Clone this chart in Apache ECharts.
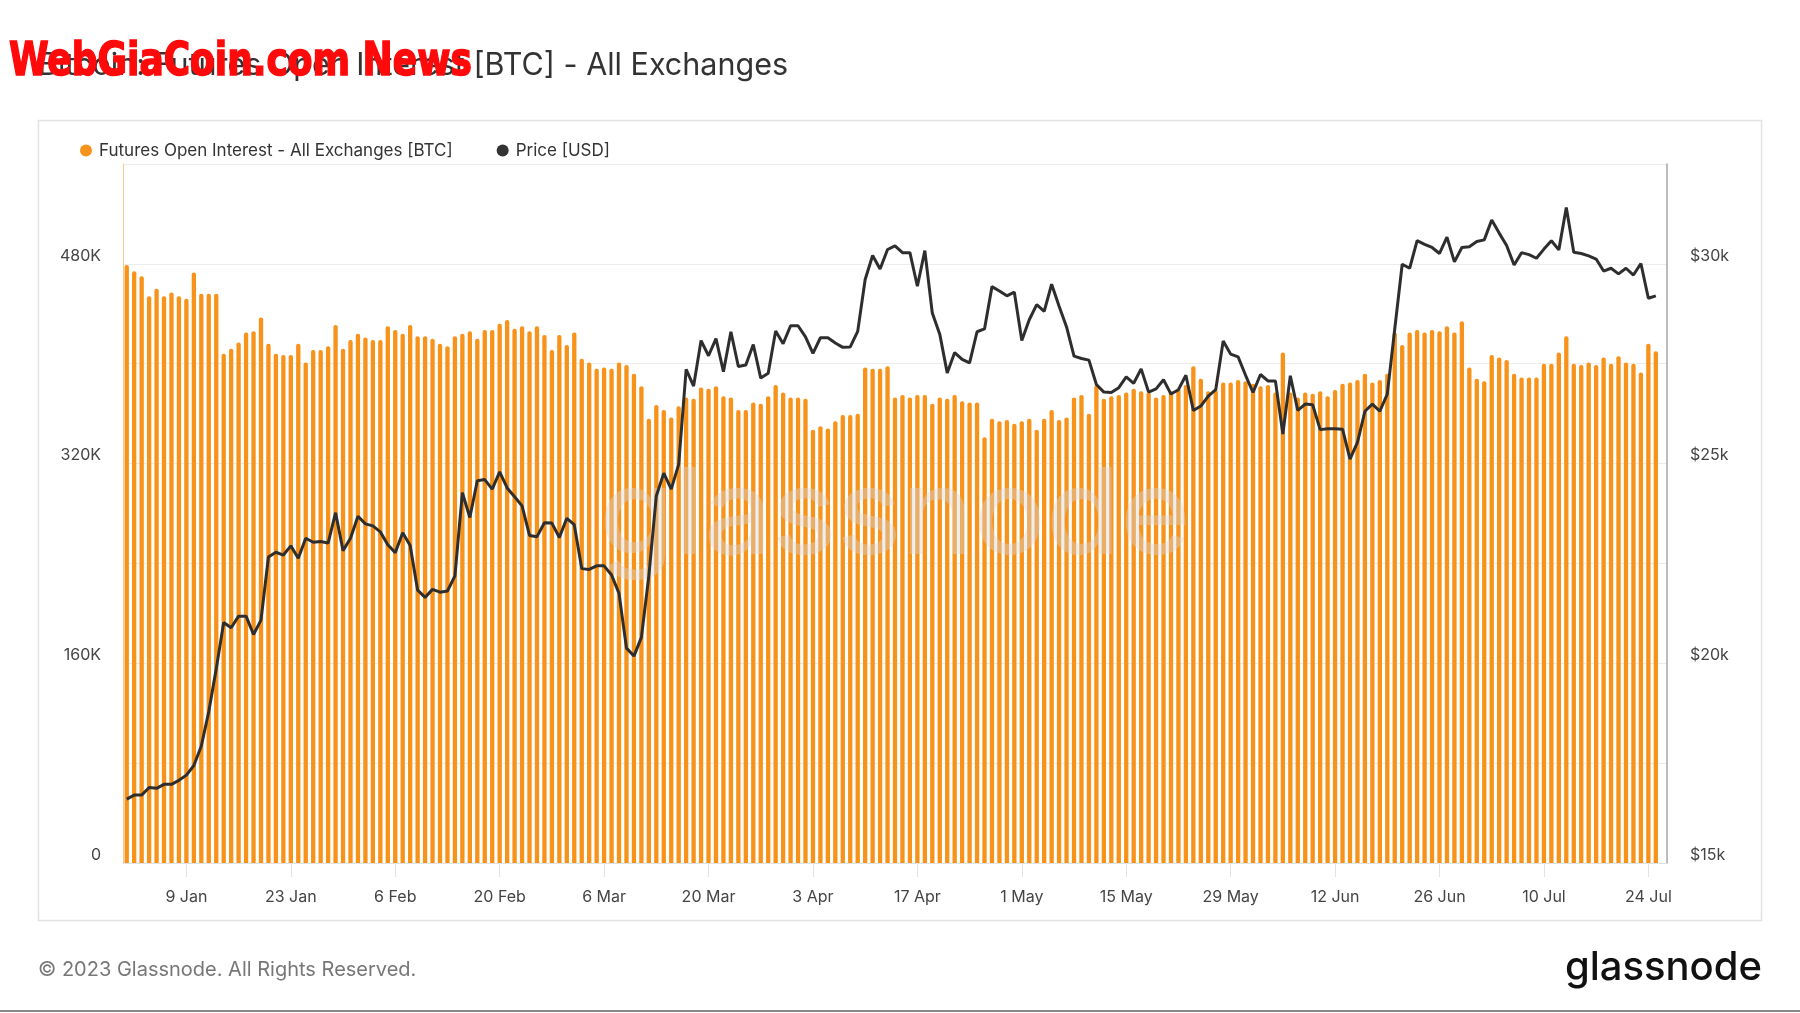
<!DOCTYPE html>
<html>
<head>
<meta charset="utf-8">
<title>Bitcoin: Futures Open Interest [BTC] - All Exchanges</title>
<script src="https://cdn.jsdelivr.net/npm/echarts@6/dist/echarts.min.js"></script>
<style>
  html, body { margin: 0; padding: 0; background: #fff; }
  #chart { width: 1800px; height: 1013px; }
</style>
</head>
<body>
<div id="chart"></div>
<script>
/* one value per day, 1 Jan 2023 .. 25 Jul 2023 (the axis runs one empty day further) */
var firstDay = Date.UTC(2023, 0, 1);
var dayCount = 207;
var monthNames = ['Jan', 'Feb', 'Mar', 'Apr', 'May', 'Jun', 'Jul', 'Aug', 'Sep', 'Oct', 'Nov', 'Dec'];

var tickLabels = ['9 Jan', '23 Jan', '6 Feb', '20 Feb', '6 Mar', '20 Mar', '3 Apr', '17 Apr',
  '1 May', '15 May', '29 May', '12 Jun', '26 Jun', '10 Jul', '24 Jul'];

// futures open interest, BTC
var openInterest = [
  479000, 474000, 470000, 454000, 460000, 454000, 457000, 454000, 452000, 473000, 456000, 456000, 456000,
  408000, 412000, 417000, 425000, 426000, 437000, 416000, 408000, 407000, 407000, 416000, 401000, 411000, 411000, 414000, 431000, 412000,
  419000, 424000, 421000, 419000, 419000, 430000, 427000, 424000, 431000, 422000, 422000, 420000, 416000, 414000, 422000, 424000, 426000, 420000, 427000, 427000,
  432000, 435000, 428000, 430000, 426000, 430000, 423000, 411000, 423000, 415000, 425000, 404000, 401000, 396000,
  397000, 396000, 401000, 399000, 392000, 382000, 356000, 367000, 363000, 357000, 366000, 373000, 372000, 381000, 380000, 382000,
  374000, 373000, 363000, 363000, 369000, 368000, 374000, 383000, 377000, 373000, 373000, 372000, 347000, 350000, 348000, 354000, 359000, 359000, 360000, 397000,
  396000, 396000, 398000, 373000, 375000, 373000, 375000, 375000, 368000, 373000, 372000, 375000, 370000, 369000, 369000, 341000, 356000, 354000,
  355000, 352000, 354000, 356000, 347000, 356000, 363000,
  355000, 357000, 373000, 375000, 360000, 383000, 372000, 374000, 375000, 377000, 380000, 378000, 377000, 373000, 375000, 378000, 380000, 383000, 398000, 388000, 378000, 379000, 385000, 385000, 387000,
  386000, 384000, 382000, 383000, 377000, 409000, 377000, 373000, 377000, 376000, 378000, 374000, 379000, 384000, 385000, 387000, 392000, 385000, 387000, 392000, 425000,
  415000, 425000, 427000, 425000, 427000, 426000, 430000, 425000, 434000, 397000, 388000, 386000, 407000, 405000, 403000, 392000, 389000, 389000, 389000, 400000,
  400000, 409000, 422000, 400000, 399000, 401000, 399000, 405000, 400000, 406000, 401000, 400000, 393000, 416000, 410000
];

// BTC price, USD
var price = [
  16600, 16700, 16700, 16890, 16870, 16970, 16970, 17070, 17200, 17440, 17930, 18790, 19860,
  21020, 20890, 21180, 21180, 20720, 21080, 22660, 22780, 22710, 22940, 22630, 23130, 23030, 23050, 23010, 23770, 22820,
  23130, 23680, 23490, 23440, 23290, 22970, 22770, 23270, 22950, 21830, 21650, 21850, 21780, 21810, 22190, 24270, 23650, 24570, 24600, 24360,
  24790, 24390, 24170, 23940, 23200, 23170, 23520, 23510, 23150, 23630, 23470, 22370, 22350, 22440,
  22440, 22210, 21750, 20380, 20180, 20650, 22190, 24190, 24760, 24360, 24980, 27360, 26940, 28080, 27700, 28130,
  27300, 28300, 27430, 27470, 27980, 27140, 27260, 28320, 28000, 28450, 28450, 28170, 27760, 28150, 28150, 28020, 27910, 27920, 28310, 29610,
  30210, 29870, 30360, 30450, 30280, 30280, 29440, 30330, 28770, 28240, 27270, 27780, 27610, 27520, 28300, 28370, 29430, 29320,
  29200, 29290, 28080, 28600, 28980, 28810, 29490,
  28940, 28420, 27690, 27630, 27590, 26980, 26790, 26780, 26900, 27170, 27010, 27370, 26790, 26870, 27100, 26740, 26850, 27210, 26330, 26440, 26690, 26850, 28070, 27740, 27670,
  27210, 26780, 27230, 27070, 27070, 25740, 27200, 26330, 26490, 26470, 25850, 25870, 25870, 25860, 25110, 25530, 26310, 26490, 26310, 26740, 28370,
  29990, 29890, 30580, 30490, 30410, 30260, 30670, 30050, 30410, 30430, 30560, 30600, 31100, 30770, 30460, 29970, 30280, 30230, 30140, 30370,
  30580, 30350, 31410, 30290, 30260, 30200, 30120, 29820, 29890, 29750, 29890, 29720, 30010, 29140, 29200
];

var days = [];
for (var i = 0; i < dayCount; i++) {
  var d = new Date(firstDay + i * 86400000);
  days.push(d.getUTCDate() + ' ' + monthNames[d.getUTCMonth()]);
}

var font = 'Inter, "Noto Sans", sans-serif';
var isTick = function (idx, value) {
  return tickLabels.indexOf(value) !== -1;
};

var chart = echarts.init(document.getElementById('chart'));

var option = {
  backgroundColor: '#fff',
  animation: false,
  textStyle: { fontFamily: font },
  legend: {
    left: 75,
    top: 137,
    icon: 'circle',
    itemWidth: 12,
    itemHeight: 12,
    itemGap: 44,
    textStyle: { fontSize: 17, color: '#333', fontFamily: font, padding: [0, 0, 0, 2] },
    data: ['Futures Open Interest - All Exchanges [BTC]', 'Price [USD]']
  },
  grid: { left: 123, top: 164, width: 1544, height: 699 },
  xAxis: {
    type: 'category',
    data: days,
    boundaryGap: true,
    axisLine: { lineStyle: { color: '#e0e0e0' } },
    axisTick: { show: true, alignWithLabel: true, length: 14, interval: isTick, lineStyle: { color: '#e3e3e3' } },
    axisLabel: { interval: isTick, margin: 26, color: '#444', fontSize: 16, fontFamily: font },
    splitLine: { show: false }
  },
  yAxis: [
    {
      type: 'value',
      position: 'left',
      min: 0,
      max: 560000,
      interval: 80000,
      axisLine: { show: true, lineStyle: { color: '#f9c88c' } },
      axisTick: { show: false },
      splitLine: { lineStyle: { color: '#ececec' } },
      axisLabel: {
        margin: 22, color: '#444', fontSize: 16, fontFamily: font,
        verticalAlign: 'bottom', lineHeight: 16, padding: 0,
        formatter: function (v) {
          if (v % 160000 !== 0) return '';
          return v === 0 ? '0' : (v / 1000) + 'K';
        }
      }
    },
    {
      type: 'value',
      position: 'right',
      min: 15000,
      max: 32500,
      interval: 2500,
      axisLine: { show: true, lineStyle: { color: '#a6a6a6', width: 1.5 } },
      axisTick: { show: false },
      splitLine: { show: false },
      axisLabel: {
        margin: 23, color: '#444', fontSize: 16, fontFamily: font,
        verticalAlign: 'bottom', lineHeight: 16, padding: 0,
        formatter: function (v) {
          return v % 5000 === 0 ? '$' + (v / 1000) + 'k' : '';
        }
      }
    }
  ],
  series: [
    {
      name: 'Futures Open Interest - All Exchanges [BTC]',
      type: 'bar',
      yAxisIndex: 0,
      data: openInterest,
      barWidth: '58%',
      itemStyle: { color: '#f7931a', borderRadius: [2, 2, 0, 0] }
    },
    {
      name: 'Price [USD]',
      type: 'line',
      yAxisIndex: 1,
      data: price,
      symbol: 'none',
      z: 10,
      itemStyle: { color: '#333' },
      lineStyle: { color: '#2e2e2e', width: 3 }
    }
  ],
  graphic: [
    {
      type: 'rect', silent: true, z: 0,
      shape: { x: 38.5, y: 120.5, width: 1723, height: 800 },
      style: { fill: 'none', stroke: '#e2e2e2', lineWidth: 1.5 }
    },
    {
      type: 'text', silent: true, x: 38, y: 66,
      style: { text: 'Bitcoin: Futures Open Interest [BTC] - All Exchanges', font: '30.5px ' + font, fill: '#333', align: 'left', verticalAlign: 'middle' }
    },
    {
      type: 'text', silent: true, x: 895, y: 518, z: 3,
      style: { text: 'glassnode', font: '500 120px ' + font, fill: 'rgba(215,215,215,0.42)', align: 'center', verticalAlign: 'middle' }
    },
    {
      type: 'text', silent: true, x: 38, y: 970,
      style: { text: '\u00a9 2023 Glassnode. All Rights Reserved.', font: '20px ' + font, fill: '#777', align: 'left', verticalAlign: 'middle' }
    },
    {
      type: 'text', silent: true, x: 1762, y: 968,
      style: { text: 'glassnode', font: '500 40px ' + font, fill: '#111', align: 'right', verticalAlign: 'middle' }
    },
    {
      type: 'line', silent: true,
      shape: { x1: 0, y1: 1011, x2: 1800, y2: 1011 },
      style: { stroke: '#888', lineWidth: 2 }
    },
    {
      type: 'text', silent: true, x: 9, y: 63, z: 100, scaleX: 0.87,
      style: { text: 'WebGiaCoin.com News', font: 'bold 46px "Liberation Sans Narrow", "DejaVu Sans Condensed", sans-serif', fill: '#ff0a0a', stroke: '#ff0a0a', lineWidth: 1.5, align: 'left', verticalAlign: 'middle' }
    }
  ]
};

chart.setOption(option);
</script>
</body>
</html>
